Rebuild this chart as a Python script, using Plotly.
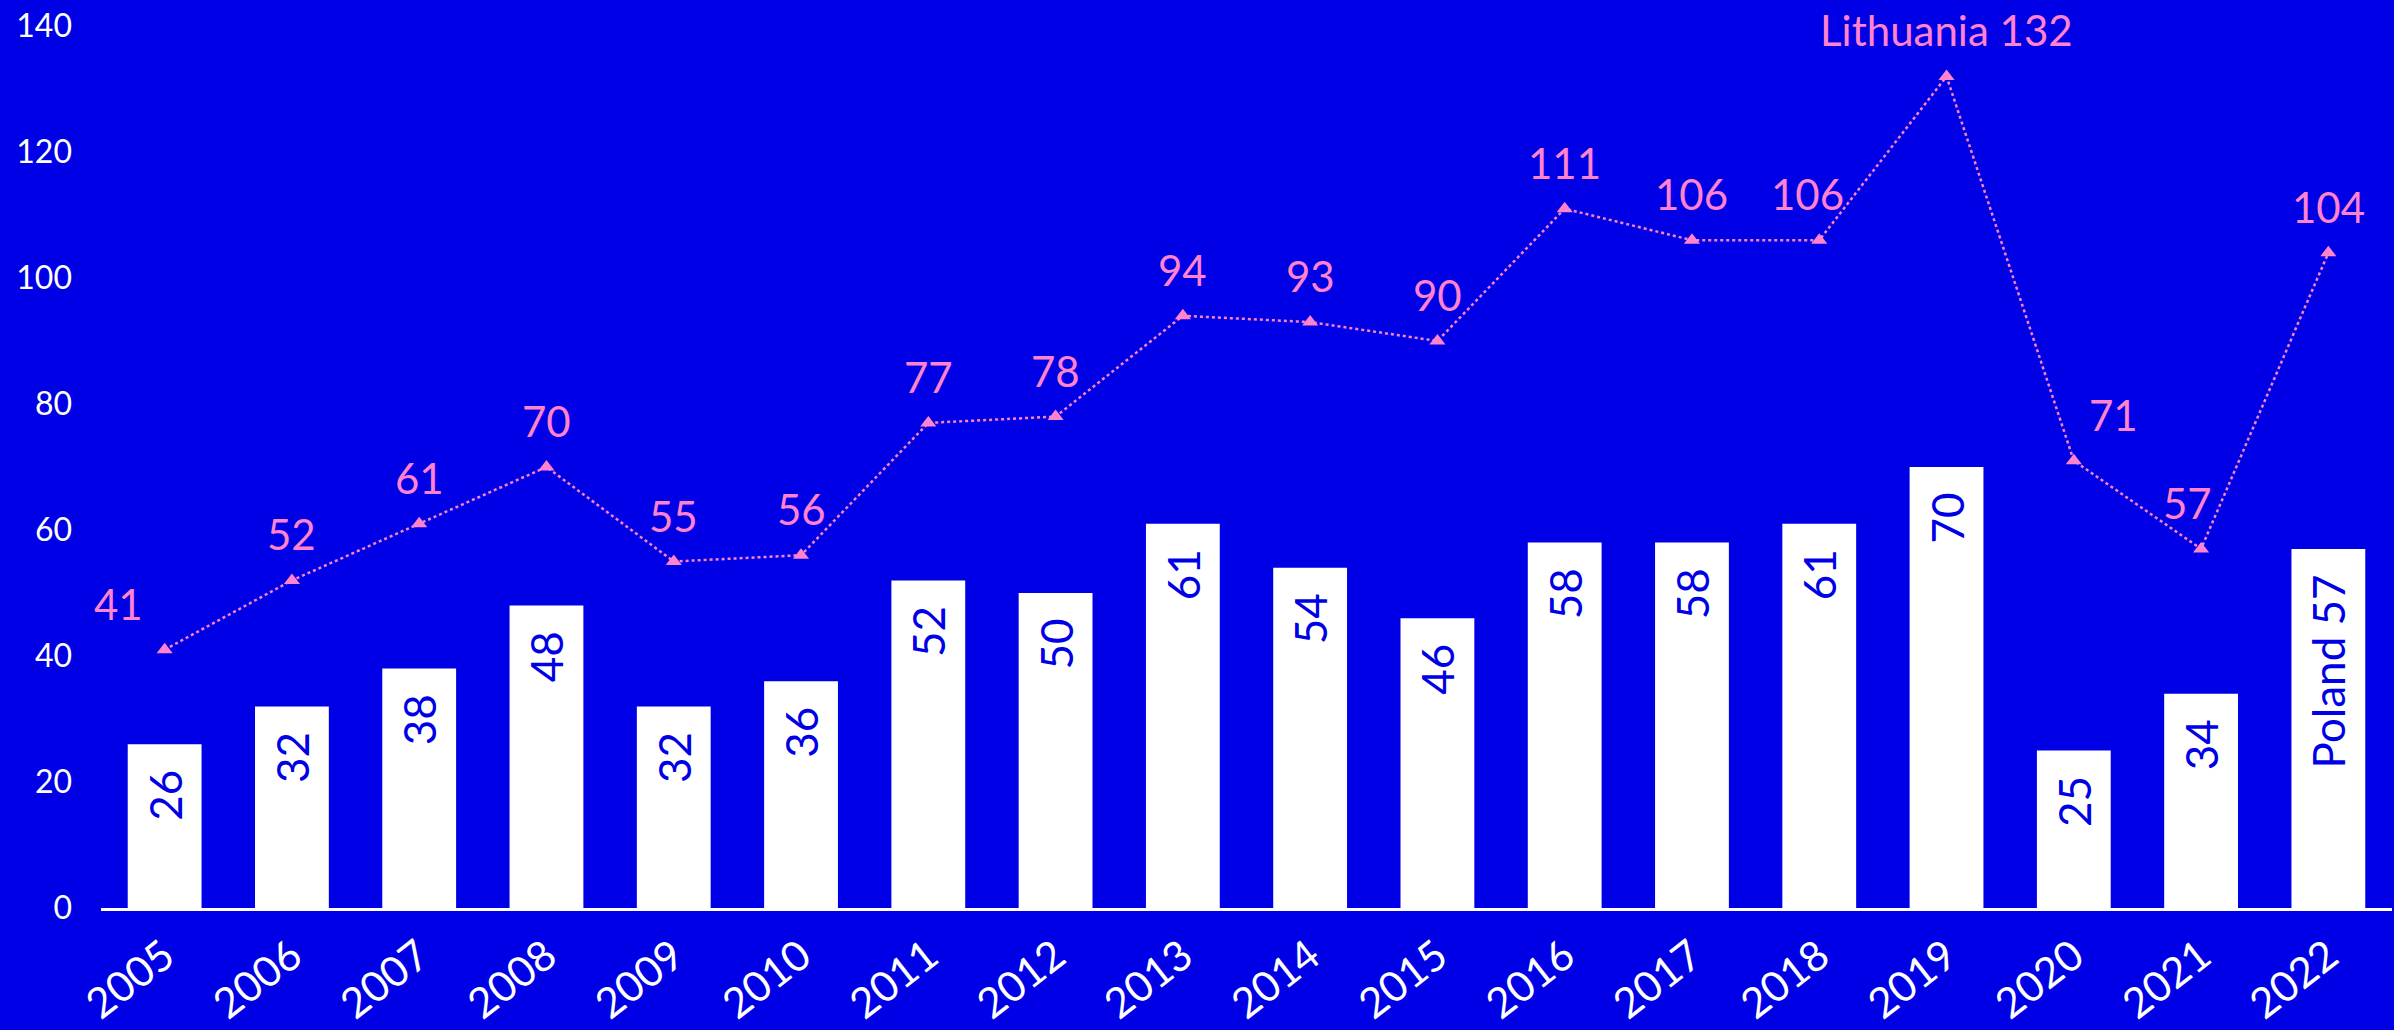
import plotly.graph_objects as go

years = ["2005", "2006", "2007", "2008", "2009", "2010", "2011", "2012", "2013",
         "2014", "2015", "2016", "2017", "2018", "2019", "2020", "2021", "2022"]
poland = [26, 32, 38, 48, 32, 36, 52, 50, 61, 54, 46, 58, 58, 61, 70, 25, 34, 57]
lithuania = [41, 52, 61, 70, 55, 56, 77, 78, 94, 93, 90, 111, 106, 106, 132, 71, 57, 104]

BLUE = "#0000E6"
PINK = "#FF82CD"
FONT = "Lato"

bar_text = [str(v) for v in poland]
bar_text[-1] = f"Poland {poland[-1]}"
bar_text = [t + "\u00a0\u00a0" for t in bar_text]  # small gap below bar top
line_text = [str(v) for v in lithuania]
i19 = years.index("2019")
line_text[i19] = f"Lithuania {lithuania[i19]}"
# horizontal nudges for a few crowded labels (pixels)
label_xshift = {"2005": -46, "2018": -12, "2020": 40, "2021": -14}

fig = go.Figure()
fig.add_trace(go.Bar(
    x=years, y=poland, marker=dict(color="white", line=dict(width=0)),
    text=bar_text, textposition="inside", insidetextanchor="end", textangle=-90,
    textfont=dict(color=BLUE, size=44, family=FONT), cliponaxis=False,
    showlegend=False, hoverinfo="skip",
))
fig.add_trace(go.Scatter(
    x=years, y=lithuania, mode="lines+markers",
    line=dict(color=PINK, width=2.5, dash="dot"),
    marker=dict(symbol="triangle-up", size=14, color=PINK),
    showlegend=False, cliponaxis=False, hoverinfo="skip",
))
for i, (yr, v, t) in enumerate(zip(years, lithuania, line_text)):
    fig.add_annotation(x=i, y=v, xref="x", yref="y", text=t, showarrow=False,
                       yanchor="middle", yshift=46, xshift=label_xshift.get(yr, 0),
                       font=dict(color=PINK, size=42, family=FONT))

fig.update_layout(
    width=2394, height=1030,
    paper_bgcolor=BLUE, plot_bgcolor=BLUE,
    margin=dict(l=101, r=2, t=26, b=122, autoexpand=False),
    bargap=0.42,
    font=dict(family=FONT, color="white"),
)
fig.update_xaxes(type="category", range=[-0.5, 17.5], showgrid=False, showline=True,
                 linecolor="white", linewidth=2.5, tickangle=-38, ticks="",
                 ticklabelstandoff=4, automargin=False,
                 tickfont=dict(size=42, color="white", family=FONT))
fig.update_yaxes(range=[0, 140], dtick=20, showgrid=False, zeroline=False, showline=False,
                 ticks="", ticklabelstandoff=28, automargin=False,
                 tickfont=dict(size=32, color="white", family=FONT))

fig.write_html("out.html", config={"displayModeBar": False},
               post_script="document.body.style.margin='0';")
